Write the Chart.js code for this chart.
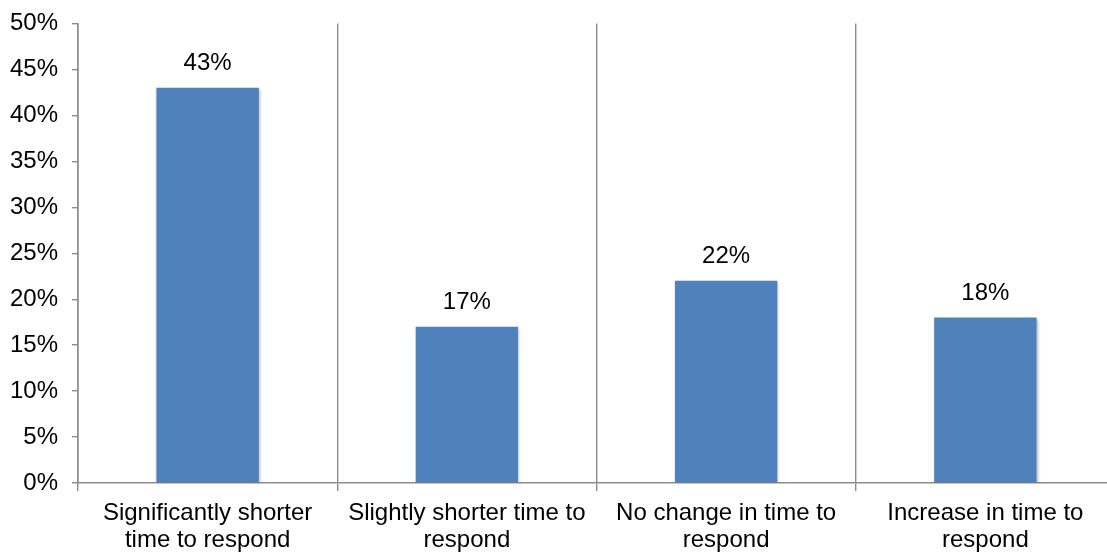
<!DOCTYPE html>
<html lang="en">
<head>
  <meta charset="UTF-8" />
  <title>Time to respond</title>
  <script src="https://cdn.jsdelivr.net/npm/chart.js"></script>
  <style>
    html, body { margin: 0; padding: 0; background: #fff; overflow: hidden; }
    .wrap { width: 1107px; height: 552px; overflow: hidden; }
  </style>
</head>
<body>
  <div class="wrap">
    <canvas id="chart" width="1115" height="552"></canvas>
  </div>
  <script>
    const categories = [
      ['Significantly shorter', 'time to respond'],
      ['Slightly shorter time to', 'respond'],
      ['No change in time to', 'respond'],
      ['Increase in time to', 'respond']
    ];
    const shares = [43, 17, 22, 18];
    const yTicks = [0, 5, 10, 15, 20, 25, 30, 35, 40, 45, 50];

    const axisGray = '#8c8c8c';
    const font = { family: "'Liberation Sans', Arial, sans-serif", size: 24, lineHeight: 1.13 };

    // value labels above each bar
    const valueLabels = {
      id: 'valueLabels',
      afterDatasetsDraw(chart) {
        const ctx = chart.ctx;
        const meta = chart.getDatasetMeta(0);
        ctx.save();
        ctx.font = `${font.size}px ${font.family}`;
        ctx.fillStyle = '#000';
        ctx.textAlign = 'center';
        ctx.textBaseline = 'alphabetic';
        meta.data.forEach((bar, i) => {
          ctx.fillText(shares[i] + '%', bar.x, bar.y - 18);
        });
        ctx.restore();
      }
    };

    // soft shadow behind bars
    const barShadow = {
      id: 'barShadow',
      beforeDatasetsDraw(chart) {
        const ctx = chart.ctx;
        ctx.save();
        ctx.shadowColor = 'rgba(0,0,0,0.3)';
        ctx.shadowBlur = 3;
        ctx.shadowOffsetX = 1;
        ctx.shadowOffsetY = 1;
      },
      afterDatasetsDraw(chart) {
        chart.ctx.restore();
      }
    };

    new Chart(document.getElementById('chart'), {
      type: 'bar',
      data: {
        labels: categories,
        datasets: [{
          data: shares,
          backgroundColor: '#4f81bd',
          categoryPercentage: 1,
          barPercentage: 0.395
        }]
      },
      options: {
        responsive: false,
        animation: false,
        layout: { padding: { top: 23.5, right: 0, left: 0, bottom: 0 } },
        plugins: { legend: { display: false }, tooltip: { enabled: false } },
        scales: {
          x: {
            offset: true,
            grid: { offset: true, color: axisGray, lineWidth: 1.4, tickLength: 8 },
            border: { color: axisGray, width: 1.6 },
            ticks: { color: '#000', font: font, padding: 9, maxRotation: 0 },
            afterFit(scale) { scale.height = 69; }
          },
          y: {
            min: 0,
            max: 50,
            afterBuildTicks(scale) { scale.ticks = yTicks.map(v => ({ value: v })); },
            grid: { drawOnChartArea: false, color: axisGray, tickLength: 6, lineWidth: 1.4 },
            border: { color: axisGray, width: 1.6 },
            ticks: { color: '#000', font: font, padding: 14, callback: v => v + '%' },
            afterFit(scale) {
              scale.width = 78;
              scale.paddingTop = 0;
              scale.paddingBottom = 0;
            }
          }
        }
      },
      plugins: [barShadow, valueLabels]
    });
  </script>
</body>
</html>
